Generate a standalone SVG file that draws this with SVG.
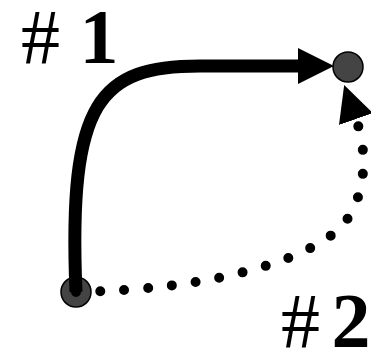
<svg xmlns="http://www.w3.org/2000/svg" width="371" height="354" viewBox="0 0 371 354">
<style>
.node{fill:#444;stroke:#000;stroke-width:1.5}
.solid{fill:none;stroke:#000;stroke-width:13}
.dotted{fill:none;stroke:#000;stroke-width:10;stroke-linecap:round;stroke-dasharray:0 24}
.label{font-family:"Liberation Serif",serif;font-weight:bold;font-size:78px;fill:#000}
.hash{font-weight:normal}
</style>
<defs>
<marker id="head" markerUnits="userSpaceOnUse" markerWidth="36" markerHeight="36" viewBox="0 0 35 35" refX="0" refY="17.5" orient="auto">
<path d="M0,0 L35,17.5 L0,35 z" fill="#000"/>
</marker>
</defs>
<g id="node-a"><circle class="node" cx="348" cy="67" r="15"/></g>
<g id="node-b"><circle class="node" cx="76" cy="292" r="15"/></g>
<g id="connectors">
<path class="solid" d="M76,292 C68,100 100,66 200,66 L298,66" marker-end="url(#head)"/>
<path class="dotted" d="M76,292 C200,290 300,265 340,228 C360,208 372,165 356,119" marker-end="url(#head)"/>
</g>
<text class="label" x="21" y="63"><tspan class="hash">#</tspan> 1</text>
<text class="label" x="281" y="347"><tspan class="hash">#</tspan><tspan dx="-8"> 2</tspan></text>
</svg>
